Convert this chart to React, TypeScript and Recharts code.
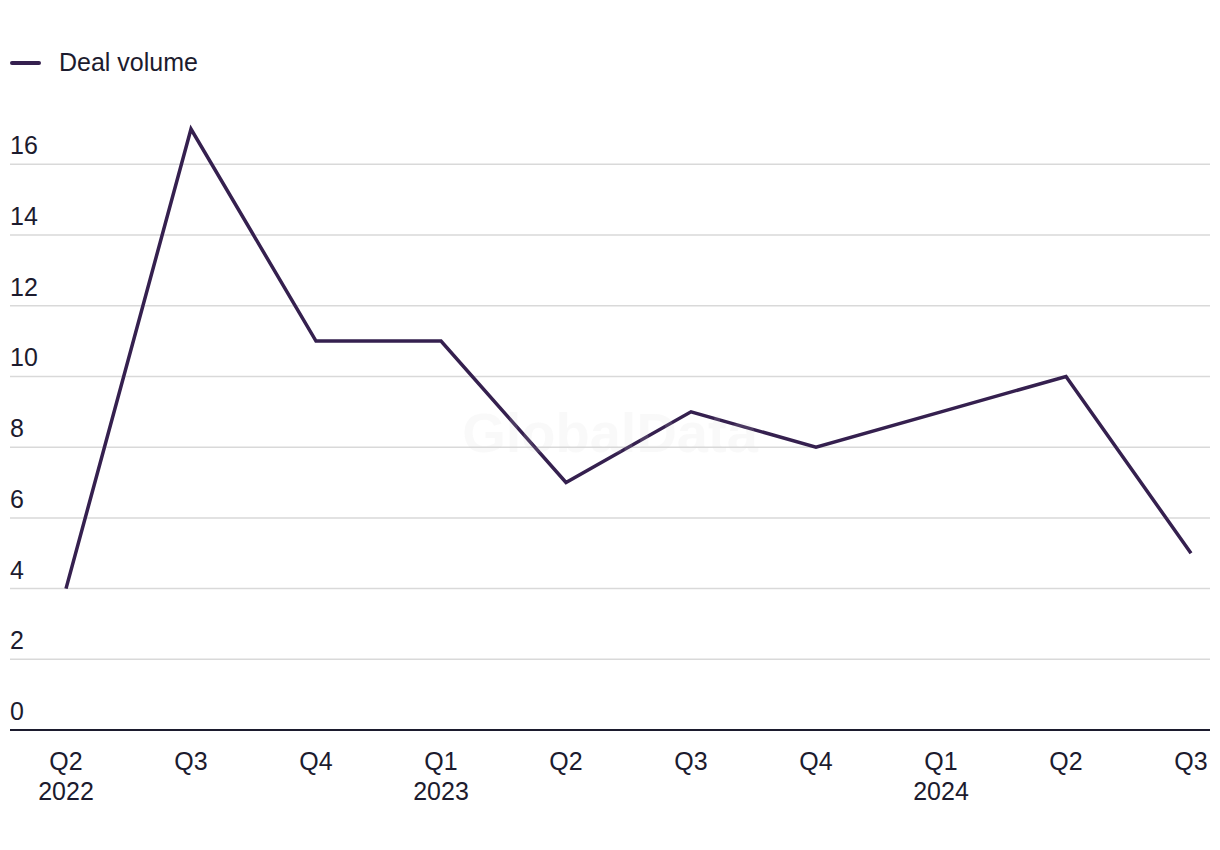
import React from 'react';
import { LineChart, Line, XAxis, YAxis, CartesianGrid } from 'recharts';

const quarters = ['Q2', 'Q3', 'Q4', 'Q1', 'Q2', 'Q3', 'Q4', 'Q1', 'Q2', 'Q3'];
const years = ['2022', '', '', '2023', '', '', '', '2024', '', ''];
const dealVolume = [4, 17, 11, 11, 7, 9, 8, 9, 10, 5];
const yTicks = [0, 2, 4, 6, 8, 10, 12, 14, 16];

const data = quarters.map((q, i) => ({
    key: `${q}-${i}`,
    quarter: q,
    year: years[i],
    deals: dealVolume[i]
}));

const FONT = '"Liberation Sans", Arial, sans-serif';
const TEXT = '#1c1b2e';
const LINE = '#35204f';

const YTick = (props: any) => {
    const { y, payload } = props;
    return (
        <text x={10} y={y - 10} textAnchor="start" fill={TEXT} fontSize={25} fontFamily={FONT}>
            {payload.value}
        </text>
    );
};

const XTick = (props: any) => {
    const { x, payload, index } = props;
    const row = data[index];
    return (
        <g>
            <text x={x} y={770} textAnchor="middle" fill={TEXT} fontSize={25} fontFamily={FONT}>
                {row ? row.quarter : payload.value}
            </text>
            {row && row.year ? (
                <text x={x} y={800} textAnchor="middle" fill={TEXT} fontSize={25} fontFamily={FONT}>
                    {row.year}
                </text>
            ) : null}
        </g>
    );
};

const App: React.FC = () => {
    return (
        <div style={{ position: 'absolute', left: 0, top: 0, width: 1220, height: 850, background: '#fff' }}>
            <div
                style={{
                    position: 'absolute',
                    left: 10,
                    top: 48,
                    display: 'flex',
                    alignItems: 'center',
                    fontFamily: FONT,
                    fontSize: 25,
                    color: TEXT
                }}
            >
                <span style={{ display: 'inline-block', width: 31, height: 4, borderRadius: 2, background: LINE, marginRight: 18 }} />
                <span>Deal volume</span>
            </div>
            <LineChart width={1220} height={850} data={data} margin={{ top: 129, right: 10, bottom: 0, left: 9 }}>
                <CartesianGrid vertical={false} stroke="#d9d9d9" strokeWidth={1.5} horizontalValues={yTicks} />
                <XAxis
                    dataKey="key"
                    scale="point"
                    padding={{ left: 56, right: 19 }}
                    height={120}
                    interval={0}
                    tickLine={false}
                    axisLine={{ stroke: TEXT, strokeWidth: 2 }}
                    tick={<XTick />}
                />
                <YAxis
                    width={1}
                    domain={[0, 17]}
                    ticks={yTicks}
                    interval={0}
                    axisLine={false}
                    tickLine={false}
                    tick={<YTick />}
                />
                <Line
                    type="linear"
                    dataKey="deals"
                    stroke={LINE}
                    strokeWidth={3.5}
                    dot={false}
                    activeDot={false}
                    isAnimationActive={false}
                />
            </LineChart>
            <div
                style={{
                    position: 'absolute',
                    left: 0,
                    width: 1220,
                    top: 400,
                    textAlign: 'center',
                    fontFamily: FONT,
                    fontWeight: 'bold',
                    fontSize: 56,
                    color: 'rgba(210,210,210,0.14)',
                    pointerEvents: 'none'
                }}
            >
                GlobalData
            </div>
        </div>
    );
};

export default App;
